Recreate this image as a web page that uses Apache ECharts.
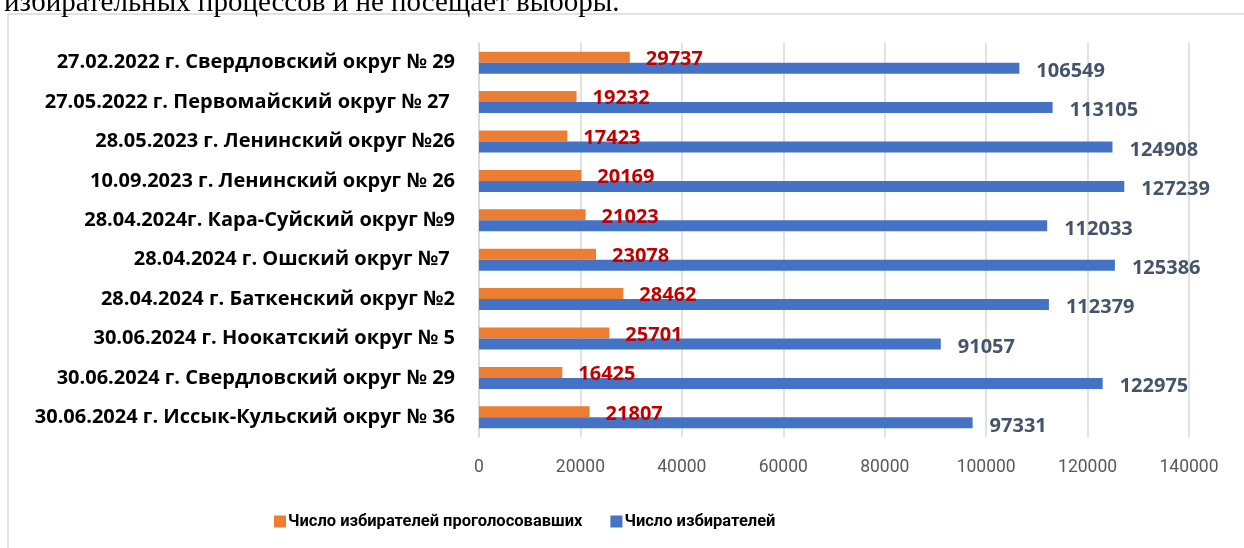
<!DOCTYPE html>
<html>
<head>
<meta charset="utf-8">
<script src="https://cdn.jsdelivr.net/npm/echarts@6/dist/echarts.min.js"></script>
<style>
html,body{margin:0;padding:0;background:#fff;}
#c{width:1244px;height:548px;}
</style>
</head>
<body>
<div id="c"></div>
<script>
const categories = [
  '27.02.2022 г. Свердловский округ № 29',
  '27.05.2022 г. Первомайский округ № 27 ',
  '28.05.2023 г. Ленинский округ №26',
  '10.09.2023 г. Ленинский округ № 26',
  '28.04.2024г. Кара-Суйский округ №9',
  '28.04.2024 г. Ошский округ №7 ',
  '28.04.2024 г. Баткенский округ №2',
  '30.06.2024 г. Ноокатский округ № 5',
  '30.06.2024 г. Свердловский округ № 29',
  '30.06.2024 г. Иссык-Кульский округ № 36'
];
const votedValues = [29737, 19232, 17423, 20169, 21023, 23078, 28462, 25701, 16425, 21807];
const totalValues = [106549, 113105, 124908, 127239, 112033, 125386, 112379, 91057, 122975, 97331];
const seriesNames = ['Число избирателей проголосовавших', 'Число избирателей'];
const topText = 'избирательных процессов и не посещает выборы.';

const chart = echarts.init(document.getElementById('c'), null, {renderer: 'canvas'});
chart.setOption({
  animation: false,
  backgroundColor: '#fff',
  graphic: [
    {type: 'rect', shape: {x: 8, y: 14, width: 1300, height: 600},
     style: {fill: 'none', stroke: '#D9D9D9', lineWidth: 1.5}, z: -1},
    {type: 'text', left: 4, top: -11,
     style: {text: topText, font: '29px "Liberation Serif", serif', fill: '#000'}}
  ],
  grid: {left: 479, right: 55, top: 43, bottom: 111, containLabel: false},
  legend: {
    bottom: 13, left: 269,
    itemWidth: 12, itemHeight: 12, itemGap: 28,
    icon: 'rect',
    textStyle: {fontFamily: '"Roboto", sans-serif', fontWeight: 'bold', fontSize: 16.5, color: '#000', padding: [0, 0, 0, -3]},
    data: seriesNames
  },
  xAxis: {
    type: 'value', min: 0, max: 140000, interval: 20000,
    axisLine: {show: false}, axisTick: {show: false},
    splitLine: {lineStyle: {color: '#D9D9D9', width: 1.5}},
    axisLabel: {margin: 22, color: '#595959', fontSize: 17.5, fontFamily: '"Roboto", sans-serif',
      formatter: function (v) { return String(v); }}
  },
  yAxis: {
    type: 'category', data: categories, inverse: true,
    axisLine: {show: true, lineStyle: {color: '#D9D9D9', width: 1.5}},
    axisTick: {show: false},
    axisLabel: {margin: 24, color: '#000', fontSize: 20, fontWeight: 'bold', fontFamily: '"Open Sans", sans-serif'}
  },
  series: [
    {
      name: seriesNames[0], type: 'bar', data: votedValues,
      barWidth: 11, barGap: '0%',
      itemStyle: {color: '#ED7D31'},
      label: {show: true, position: 'right', distance: 16, offset: [0, 2],
        color: '#C00000', fontWeight: 'bold', fontSize: 20, fontFamily: '"Open Sans", sans-serif'}
    },
    {
      name: seriesNames[1], type: 'bar', data: totalValues,
      barWidth: 11,
      itemStyle: {color: '#4472C4'},
      label: {show: true, position: 'right', distance: 17, offset: [0, 3],
        color: '#44546A', fontWeight: 'bold', fontSize: 20, fontFamily: '"Open Sans", sans-serif'}
    }
  ]
});
</script>
</body>
</html>
